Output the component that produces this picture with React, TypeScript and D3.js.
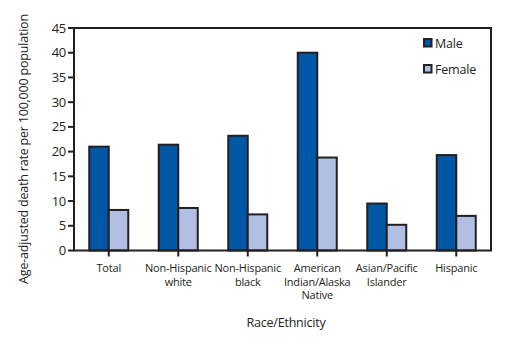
import React from "react";
import * as d3 from "d3";

const categories = [
  ["Total"],
  ["Non-Hispanic", "white"],
  ["Non-Hispanic", "black"],
  ["American", "Indian/Alaska", "Native"],
  ["Asian/Pacific", "Islander"],
  ["Hispanic"],
];
const seriesNames = ["Male", "Female"];
const maleValues = [21.0, 21.4, 23.2, 40.0, 9.5, 19.3];
const femaleValues = [8.2, 8.6, 7.3, 18.8, 5.2, 7.0];
const yTicks = [0, 5, 10, 15, 20, 25, 30, 35, 40, 45];
const colors = ["#0057A6", "#B1BFE2"];
const stroke = "#231f20";
const font = "'Open Sans', 'Noto Sans', sans-serif";

export default function App() {
  const W = 521, H = 349;
  const left = 74, right = 491, top = 28, bottom = 250.5;
  const x = d3.scaleBand<number>().domain(d3.range(categories.length)).range([left, right]).paddingInner(0).paddingOuter(0);
  const y = d3.scaleLinear().domain([0, 45]).range([bottom, top]);
  const bw = 19.5;
  const series = [maleValues, femaleValues];
  return (
    <svg width={W} height={H} style={{ position: "absolute", left: 0, top: 0 }} fontFamily={font}>
      <rect x={0} y={0} width={W} height={H} fill="#fff" />
      {categories.map((c, i) => {
        const cx = x(i)! + x.bandwidth() / 2;
        return (
          <g key={i}>
            {series.map((vals, s) => (
              <rect key={s} x={cx - bw + s * bw} y={y(vals[i])} width={bw} height={bottom - y(vals[i])}
                fill={colors[s]} stroke={stroke} strokeWidth={2} />
            ))}
            <line x1={cx} x2={cx} y1={bottom} y2={bottom + 6} stroke={stroke} strokeWidth={2} />
            {c.map((t, k) => (
              <text key={k} x={cx} y={272 + k * 13.5} textAnchor="middle" fontSize={11} fill="#231f20" letterSpacing={-0.2}>{t}</text>
            ))}
          </g>
        );
      })}
      <rect x={left} y={top} width={right - left} height={bottom - top} fill="none" stroke={stroke} strokeWidth={2} />
      {yTicks.map((t) => (
        <g key={t}>
          <line x1={left - 6} x2={left} y1={y(t)} y2={y(t)} stroke={stroke} strokeWidth={2} />
          <text x={66} y={y(t) + 4.5} textAnchor="end" fontSize={13} fill="#231f20" letterSpacing={-0.3}>{t}</text>
        </g>
      ))}
      {seriesNames.map((n, s) => (
        <g key={n}>
          <rect x={424} y={39 + s * 26} width={7.5} height={7.5} fill={colors[s]} stroke={stroke} strokeWidth={2} />
          <text x={435} y={47.5 + s * 26} fontSize={12.5} fill="#231f20" letterSpacing={-0.2}>{n}</text>
        </g>
      ))}
      <text transform="translate(28,149) rotate(-90)" textAnchor="middle" fontSize={12.5} fill="#231f20" letterSpacing={-0.2}>
        Age-adjusted death rate per 100,000 population
      </text>
      <text x={286} y={327} textAnchor="middle" fontSize={12.5} fill="#231f20" letterSpacing={-0.2}>Race/Ethnicity</text>
    </svg>
  );
}
